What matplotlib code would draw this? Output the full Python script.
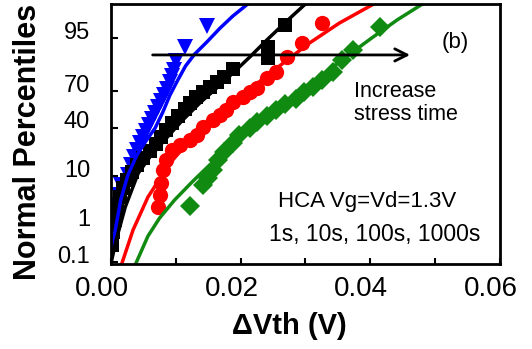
import numpy as np
import matplotlib
matplotlib.use('Agg')
import matplotlib.pyplot as plt
import matplotlib.transforms as mtransforms
from statistics import NormalDist

plt.rcParams['font.family'] = ['Liberation Sans', 'DejaVu Sans']

####### data (dVth in V, normal percentile in %) #######
# 1s stress - blue triangles
dv_1s = [0.0003, 0.0006, 0.0009, 0.0012, 0.0015, 0.0026, 0.0031, 0.0035, 0.0040,
         0.0045, 0.0049, 0.0054, 0.0058, 0.0063, 0.0068, 0.0072, 0.0077, 0.0082,
         0.0086, 0.0091, 0.0094, 0.0097, 0.0100, 0.0114, 0.0148]
pc_1s = [0.59, 1.38, 2.97, 4.71, 7.17, 10.5, 14.9, 19.2, 23.5,
         28.3, 32.7, 37.4, 42.3, 47.3, 52.4, 57.4, 62.3, 67.0,
         71.5, 76.3, 80.0, 83.4, 87.7, 92.7, 97.1]
fit_dv_1s = [0.0000, 0.0003, 0.0008, 0.0015, 0.0026, 0.0040, 0.0055, 0.0068, 0.0080,
             0.0091, 0.0103, 0.0115, 0.0129, 0.0148, 0.0168, 0.0188, 0.0211]
fit_pc_1s = [0.10, 0.32, 1.05, 3.75, 10.5, 20.4, 30.5, 39.8, 53.2,
             67.0, 77.5, 85.4, 90.4, 94.1, 96.8, 98.26, 99.10]

# 10s stress - black squares
dv_10s = [0.0002, 0.0003, 0.0006, 0.0009, 0.0014, 0.0018, 0.0025, 0.0032, 0.0040,
          0.0049, 0.0060, 0.0069, 0.0077, 0.0085, 0.0094, 0.0103, 0.0114, 0.0122,
          0.0131, 0.0142, 0.0152, 0.0163, 0.0174, 0.0188, 0.0242, 0.0242, 0.0268]
pc_10s = [0.32, 0.70, 1.38, 2.56, 4.30, 6.35, 8.74, 11.7, 14.9,
          18.6, 22.8, 27.6, 32.7, 38.2, 44.0, 49.8, 55.7, 60.7,
          65.5, 69.3, 72.9, 76.3, 79.4, 83.9, 88.9, 92.7, 97.3]
fit_dv_10s = [0.0000, 0.0008, 0.0022, 0.0042, 0.0060, 0.0083, 0.0109, 0.0137,
              0.0163, 0.0188, 0.0214, 0.0240, 0.0269, 0.0298]
fit_pc_10s = [0.09, 0.43, 2.69, 11.3, 19.2, 30.5, 45.6, 60.7,
              72.2, 81.7, 89.3, 94.5, 97.6, 99.04]

# 100s stress - red circles
dv_100s = [0.0072, 0.0075, 0.0077, 0.0080, 0.0085, 0.0094, 0.0106, 0.0122, 0.0132,
           0.0142, 0.0157, 0.0168, 0.0178, 0.0188, 0.0203, 0.0214, 0.0226, 0.0240,
           0.0255, 0.0272, 0.0295, 0.0326]
pc_100s = [2.69, 4.71, 7.77, 12.6, 17.5, 23.5, 26.9, 30.5, 34.2,
           40.6, 46.5, 50.7, 54.9, 61.5, 65.5, 69.3, 72.2, 78.8,
           82.3, 89.3, 93.8, 97.5]
fit_dv_100s = [0.0017, 0.0034, 0.0057, 0.0091, 0.0129, 0.0160, 0.0198, 0.0232,
               0.0268, 0.0306, 0.0352, 0.0408]
fit_pc_100s = [0.093, 0.79, 4.30, 15.9, 34.2, 50.7, 65.5, 77.5,
               87.3, 93.8, 97.5, 99.15]

# 1000s stress - green diamonds
dv_1000s = [0.0122, 0.0142, 0.0149, 0.0157, 0.0165, 0.0174, 0.0188, 0.0198, 0.0214,
            0.0226, 0.0240, 0.0254, 0.0269, 0.0285, 0.0298, 0.0311, 0.0325, 0.0342,
            0.0357, 0.0374, 0.0415]
pc_1000s = [2.83, 7.17, 9.43, 12.6, 17.5, 22.2, 28.3, 34.2, 39.8,
            44.8, 49.8, 54.9, 59.9, 63.9, 69.3, 72.9, 77.5, 82.3,
            88.1, 91.8, 97.0]
fit_dv_1000s = [0.0038, 0.0057, 0.0075, 0.0098, 0.0125, 0.0152, 0.0183, 0.0214,
                0.0248, 0.0283, 0.0322, 0.0360, 0.0402, 0.0442, 0.0483]
fit_pc_1000s = [0.087, 0.55, 1.54, 3.75, 8.09, 14.9, 25.5, 38.2,
                53.2, 67.0, 79.4, 88.9, 95.0, 97.9, 99.15]

y_ticks = [0.1, 1, 10, 40, 70, 95]
y_ticklabels = ['0.1', '1', '10', '40', '70', '95']
x_ticks = [0.00, 0.02, 0.04, 0.06]
x_ticklabels = ['0.00', '0.02', '0.04', '0.06']

####### probit scale #######
nd = NormalDist()
_ppf = np.vectorize(nd.inv_cdf, otypes=[float])
_cdf = np.vectorize(nd.cdf, otypes=[float])

def fwd(p):
    p = np.clip(np.asarray(p, dtype=float) / 100.0, 1e-7, 1 - 1e-7)
    return _ppf(p)

def inv(z):
    return _cdf(np.asarray(z, dtype=float)) * 100.0

fig = plt.figure(figsize=(5.32, 3.49), dpi=100)
ax = fig.add_axes([0.2086, 0.2436, 0.7312, 0.745])
ax.set_yscale('function', functions=(fwd, inv))

ms = dict(linestyle='none', markeredgewidth=0)
ax.plot(dv_1s, pc_1s, marker='v', color='#0000ff', markersize=12, **ms)
ax.plot(dv_10s, pc_10s, marker='s', color='black', markersize=10, **ms)
ax.plot(dv_1000s, pc_1000s, marker='D', color='#118a11', markersize=10, **ms)
ax.plot(dv_100s, pc_100s, marker='o', color='#ff0000', markersize=11, **ms)

ax.plot(fit_dv_1s, fit_pc_1s, color='#0000ff', lw=2.5)
ax.plot(fit_dv_10s, fit_pc_10s, color='black', lw=2.5)
ax.plot(fit_dv_100s, fit_pc_100s, color='#ff0000', lw=2.5)
ax.plot(fit_dv_1000s, fit_pc_1000s, color='#118a11', lw=2.5)

ax.set_xlim(0, 0.06)
ax.set_ylim(0.087, 99.10)
ax.set_xticks(x_ticks)
ax.set_xticklabels(x_ticklabels, fontsize=20)
ax.set_xticks([0.01, 0.03, 0.05], minor=True)
ax.set_yticks(y_ticks)
ax.set_yticklabels(y_ticklabels, fontsize=17)
ax.yaxis.set_minor_locator(matplotlib.ticker.NullLocator())
ax.tick_params(axis='x', which='both', direction='in', length=4, width=1.5, pad=9)
ax.tick_params(axis='y', which='both', direction='in', length=5, width=1.5, pad=15)
for s in ax.spines.values():
    s.set_linewidth(2)

# labels sit a bit off their ticks in the original
for lab in ax.get_xticklabels():
    lab.set_transform(lab.get_transform() + mtransforms.ScaledTranslation(-0.09, 0, fig.dpi_scale_trans))
for lab in ax.get_yticklabels():
    lab.set_transform(lab.get_transform() + mtransforms.ScaledTranslation(0, 0.08, fig.dpi_scale_trans))

fig.text(28 / 532, 1 - 142 / 349, 'Normal Percentiles', rotation=90, ha='center', va='center',
         fontsize=22, fontweight='bold')
fig.text(289 / 532, 1 - 326 / 349, '\u0394Vth (V)', ha='center', va='center',
         fontsize=21, fontweight='bold')

ax.annotate('', xy=(0.776, 0.804), xytext=(0.100, 0.804), xycoords='axes fraction',
            arrowprops=dict(arrowstyle='->', color='black', lw=2, mutation_scale=22))
ax.text(0.884, 0.850, '(b)', transform=ax.transAxes, ha='center', va='center', fontsize=16)
ax.text(0.625, 0.705, 'Increase\nstress time', transform=ax.transAxes, ha='left', va='top',
        fontsize=15.5, linespacing=1.15)
ax.text(0.429, 0.242, 'HCA Vg=Vd=1.3V', transform=ax.transAxes, ha='left', va='center', fontsize=16)
ax.text(0.406, 0.115, '1s, 10s, 100s, 1000s', transform=ax.transAxes, ha='left', va='center',
        fontsize=16.5)

fig.savefig('out.png', dpi=100)
